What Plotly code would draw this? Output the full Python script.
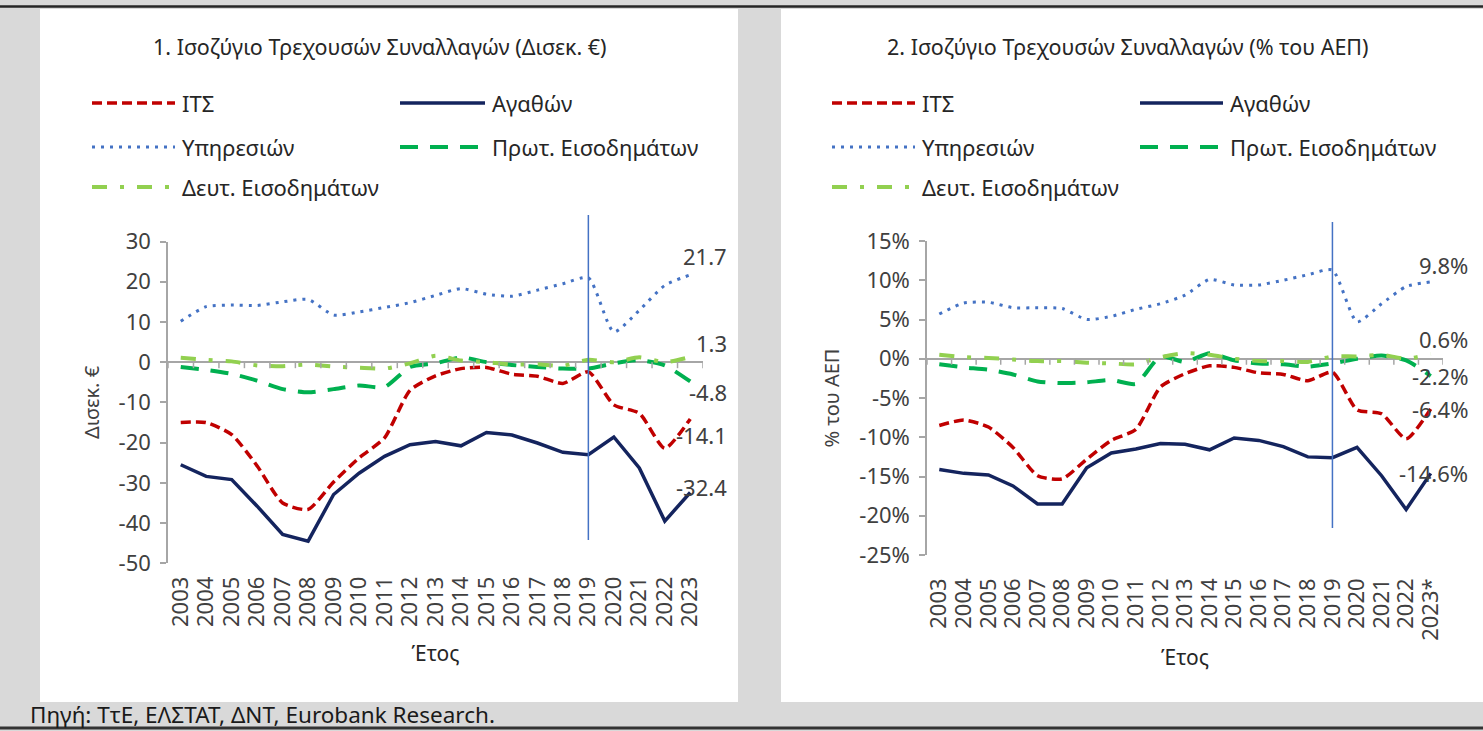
import plotly.graph_objects as go

W, H = 1483, 731

# ---------------- data ----------------
years = ["2003", "2004", "2005", "2006", "2007", "2008", "2009", "2010", "2011", "2012",
         "2013", "2014", "2015", "2016", "2017", "2018", "2019", "2020", "2021", "2022", "2023"]
years_r = ["2003", "2004", "2005", "2006", "2007", "2008", "2009", "2010", "2011", "2012",
           "2013", "2014", "2015", "2016", "2017", "2018", "2019", "2020", "2021", "2022", "2023*"]

# Chart 1: billion EUR
its_bn = [-15.0, -15.0, -18.0, -25.8, -35.0, -36.6, -29.8, -23.8, -18.8, -7.0,
          -3.4, -1.6, -1.3, -3.0, -3.5, -5.3, -2.4, -10.6, -12.7, -21.4, -14.1]
goods_bn = [-25.5, -28.4, -29.2, -35.8, -42.8, -44.5, -32.9, -27.6, -23.4, -20.5,
            -19.7, -20.8, -17.5, -18.1, -20.1, -22.4, -23.0, -18.6, -26.3, -39.5, -32.4]
services_bn = [10.2, 13.8, 14.2, 14.1, 15.0, 15.6, 11.7, 12.5, 13.6, 14.8,
               16.6, 18.3, 16.9, 16.4, 17.9, 19.5, 21.0, 7.5, 12.9, 19.1, 21.7]
primary_bn = [-1.2, -1.9, -2.9, -4.6, -6.7, -7.5, -6.7, -5.8, -6.2, -1.2,
              -0.3, 1.2, 0.0, -0.7, -1.2, -1.6, -1.6, -0.3, 0.5, -0.8, -4.8]
secondary_bn = [1.1, 0.6, 0.2, -0.8, -1.0, -0.6, -1.1, -1.4, -1.6, -0.3,
                1.6, 0.4, 0.0, -0.6, -0.5, -0.9, 0.6, 0.0, 1.2, 0.0, 1.3]

# Chart 2: % of GDP
its_gdp = [-8.5, -7.8, -8.7, -11.3, -14.9, -15.3, -12.8, -10.4, -9.0, -3.6,
           -1.9, -0.9, -1.1, -1.8, -2.0, -2.8, -1.7, -6.5, -7.0, -10.2, -6.4]
goods_gdp = [-14.1, -14.6, -14.8, -16.2, -18.5, -18.5, -13.9, -12.0, -11.5, -10.8,
             -10.9, -11.6, -10.1, -10.4, -11.2, -12.5, -12.6, -11.3, -14.9, -19.2, -14.6]
services_gdp = [5.7, 7.1, 7.2, 6.5, 6.5, 6.4, 5.0, 5.4, 6.3, 7.0,
                8.1, 10.1, 9.4, 9.4, 10.0, 10.7, 11.3, 4.7, 7.0, 9.2, 9.8]
primary_gdp = [-0.7, -1.1, -1.4, -2.0, -2.9, -3.1, -3.0, -2.7, -3.2, 0.3,
               -0.4, 0.7, -0.2, -0.6, -0.7, -1.0, -0.6, 0.0, 0.4, -0.2, -2.2]
secondary_gdp = [0.5, 0.2, 0.1, -0.1, -0.3, -0.3, -0.5, -0.6, -0.7, 0.2,
                 0.7, 0.5, 0.0, -0.3, -0.3, -0.4, 0.3, 0.3, 0.5, 0.0, 0.6]

left_yticks = [30, 20, 10, 0, -10, -20, -30, -40, -50]
right_yticks = [15, 10, 5, 0, -5, -10, -15, -20, -25]

names = ["ΙΤΣ", "Αγαθών", "Υπηρεσιών", "Πρωτ. Εισοδημάτων", "Δευτ. Εισοδημάτων"]
left_series = [its_bn, goods_bn, services_bn, primary_bn, secondary_bn]
right_series = [its_gdp, goods_gdp, services_gdp, primary_gdp, secondary_gdp]

title_left = "1. Ισοζύγιο Τρεχουσών Συναλλαγών (Δισεκ. €)"
title_right = "2. Ισοζύγιο Τρεχουσών Συναλλαγών (% του ΑΕΠ)"
source_text = "Πηγή: ΤτΕ, ΕΛΣΤΑΤ, ΔΝΤ, Eurobank Research."

# ---------------- styles ----------------
FONT = "Noto Sans"
TXT = "#262626"
TICK = "#404040"
AX = "#a6a6a6"

styles = {
    "ΙΤΣ": dict(color="#c00000", width=3.5, dash="10px,5px", shape="spline"),
    "Αγαθών": dict(color="#14245e", width=3.5, dash="solid", shape="linear"),
    "Υπηρεσιών": dict(color="#4472c4", width=3, dash="3px,6px", shape="spline"),
    "Πρωτ. Εισοδημάτων": dict(color="#00b050", width=4, dash="18px,12px", shape="spline"),
    "Δευτ. Εισοδημάτων": dict(color="#92d050", width=4, dash="15px,13px,4px,13px", shape="spline"),
}
label_shift_left = {"ΙΤΣ": -16, "Αγαθών": 6, "Υπηρεσιών": 19,
                    "Πρωτ. Εισοδημάτων": -11, "Δευτ. Εισοδημάτων": 14}
label_shift_right = {"ΙΤΣ": 0, "Αγαθών": 0, "Υπηρεσιών": 17,
                     "Πρωτ. Εισοδημάτων": 0, "Δευτ. Εισοδημάτων": 15}


def px(x):
    return x / W


def py(y):
    return 1 - y / H


fig = go.Figure()

for xa, ya, cats, series in (("x", "y", years, left_series), ("x2", "y2", years_r, right_series)):
    for name, vals in zip(names, series):
        st = styles[name]
        fig.add_trace(go.Scatter(
            x=cats, y=vals, mode="lines", name=name, showlegend=False,
            xaxis=xa, yaxis=ya,
            line=dict(color=st["color"], width=st["width"], dash=st["dash"],
                      shape=st["shape"], smoothing=0.6 if st["shape"] == "spline" else None),
            hoverinfo="skip",
        ))

shapes = []
annotations = []

# panels and frame
shapes.append(dict(type="rect", xref="paper", yref="paper", x0=px(40), x1=px(738), y0=py(702), y1=py(9),
                   fillcolor="white", line=dict(width=0), layer="below"))
shapes.append(dict(type="rect", xref="paper", yref="paper", x0=px(781), x1=px(1483), y0=py(702), y1=py(9),
                   fillcolor="white", line=dict(width=0), layer="below"))
shapes.append(dict(type="line", xref="paper", yref="paper", x0=0, x1=1, y0=py(6.5), y1=py(6.5),
                   line=dict(color="#262626", width=2.5)))
shapes.append(dict(type="line", xref="paper", yref="paper", x0=0, x1=1, y0=py(728), y1=py(728),
                   line=dict(color="#333333", width=3)))

# tick marks along zero line (category boundaries)
for xa, ya, cats in (("x", "y", years), ("x2", "y2", years_r)):
    for i in range(len(cats) + 1):
        shapes.append(dict(type="line", xref=xa, yref=ya, ysizemode="pixel", yanchor=0,
                           x0=i - 0.5, x1=i - 0.5, y0=0, y1=-6,
                           line=dict(color=AX, width=1.5)))

# vertical 2019 marker lines
shapes.append(dict(type="line", xref="x", yref="paper", x0=years.index("2019"), x1=years.index("2019"),
                   y0=py(540), y1=py(215), line=dict(color="#4472c4", width=1.5)))
shapes.append(dict(type="line", xref="x2", yref="paper", x0=years_r.index("2019"), x1=years_r.index("2019"),
                   y0=py(528), y1=py(222), line=dict(color="#4472c4", width=1.5)))

# end-of-line data labels
for xa, ya, cats, series, shifts, suffix in (
        ("x", "y", years, left_series, label_shift_left, ""),
        ("x2", "y2", years_r, right_series, label_shift_right, "%")):
    for name, vals in zip(names, series):
        annotations.append(dict(x=len(cats) - 1, y=vals[-1], xref=xa, yref=ya,
                                text=f"{vals[-1]:.1f}{suffix}", showarrow=False,
                                xanchor="right", yanchor="middle", xshift=39, yshift=shifts[name],
                                font=dict(family=FONT, size=22, color=TICK)))

# titles
annotations.append(dict(x=px(380), y=py(47), xref="paper", yref="paper", text=title_left, showarrow=False,
                        xanchor="center", yanchor="middle", font=dict(family=FONT, size=21.5, color=TXT)))
annotations.append(dict(x=px(1128), y=py(47), xref="paper", yref="paper", text=title_right, showarrow=False,
                        xanchor="center", yanchor="middle", font=dict(family=FONT, size=21.5, color=TXT)))

# source
annotations.append(dict(x=px(28), y=py(714), xref="paper", yref="paper", text=source_text, showarrow=False,
                        xanchor="left", yanchor="middle", font=dict(family=FONT, size=22.5, color="#1a1a1a")))

# manual legends (sample line + text), 2 columns x 3 rows
legend_rows = [103, 147, 187]
legend_slots = [(0, 0), (0, 1), (1, 0), (1, 1), (2, 0)]
legend_layouts = [
    dict(cols=[(92, 175, 180), (400, 485, 490)]),
    dict(cols=[(832, 915, 920), (1140, 1223, 1228)]),
]
for lay in legend_layouts:
    for name, (r, c) in zip(names, legend_slots):
        x0, x1, xt = lay["cols"][c]
        yy = legend_rows[r]
        st = styles[name]
        shapes.append(dict(type="line", xref="paper", yref="paper", x0=px(x0), x1=px(x1), y0=py(yy), y1=py(yy),
                           line=dict(color=st["color"], width=st["width"], dash=st["dash"])))
        annotations.append(dict(x=px(xt), y=py(yy), xref="paper", yref="paper", text=name, showarrow=False,
                                xanchor="left", yanchor="middle", font=dict(family=FONT, size=22, color=TXT)))


def yaxis_cfg(domain, rng, ticks, suffix, title, anchor):
    return dict(
        domain=domain, range=rng, anchor=anchor, tickmode="array",
        tickvals=ticks, ticktext=[f"{t}{suffix}" for t in ticks],
        showline=True, linecolor=AX, linewidth=1.5, ticks="outside", ticklen=6, tickcolor=AX, tickwidth=1.5,
        showgrid=False, zeroline=True, zerolinecolor=AX, zerolinewidth=1.5,
        tickfont=dict(family=FONT, size=22, color=TICK), ticklabelstandoff=5,
        title=dict(text=title, font=dict(family=FONT, size=20, color=TICK), standoff=14),
        automargin=False, fixedrange=True,
    )


def xaxis_cfg(domain, anchor, cats, standoff_lbl, standoff_title):
    return dict(
        domain=domain, anchor=anchor, type="category", range=[-0.5, len(cats) - 0.5],
        tickmode="array", tickvals=cats, ticktext=cats,
        showline=False, ticks="", showgrid=False, zeroline=False, tickangle=-90,
        tickfont=dict(family=FONT, size=22, color=TICK), ticklabelstandoff=standoff_lbl,
        title=dict(text="Έτος", font=dict(family=FONT, size=21, color=TXT), standoff=standoff_title),
        automargin=False, fixedrange=True,
    )


fig.update_layout(
    width=W, height=H,
    margin=dict(l=0, r=0, t=0, b=0, pad=0, autoexpand=False),
    paper_bgcolor="#d9d9d9",
    plot_bgcolor="white",
    font=dict(family=FONT, color=TXT),
    showlegend=False,
    xaxis=xaxis_cfg([px(168), px(703)], "y", years, 8, 20),
    yaxis=yaxis_cfg([py(563.3), py(241.5)], [-50, 30], left_yticks, "", "Δισεκ. €", "x"),
    xaxis2=xaxis_cfg([px(927), px(1443)], "y2", years_r, 18, 10),
    yaxis2=yaxis_cfg([py(555), py(241)], [-25, 15], right_yticks, "%", "% του ΑΕΠ", "x2"),
    shapes=shapes,
    annotations=annotations,
)

fig.write_html(
    "out.html",
    config={"displayModeBar": False, "responsive": False},
    post_script="document.body.style.margin='0';document.body.style.padding='0';document.body.style.overflow='hidden';",
)
